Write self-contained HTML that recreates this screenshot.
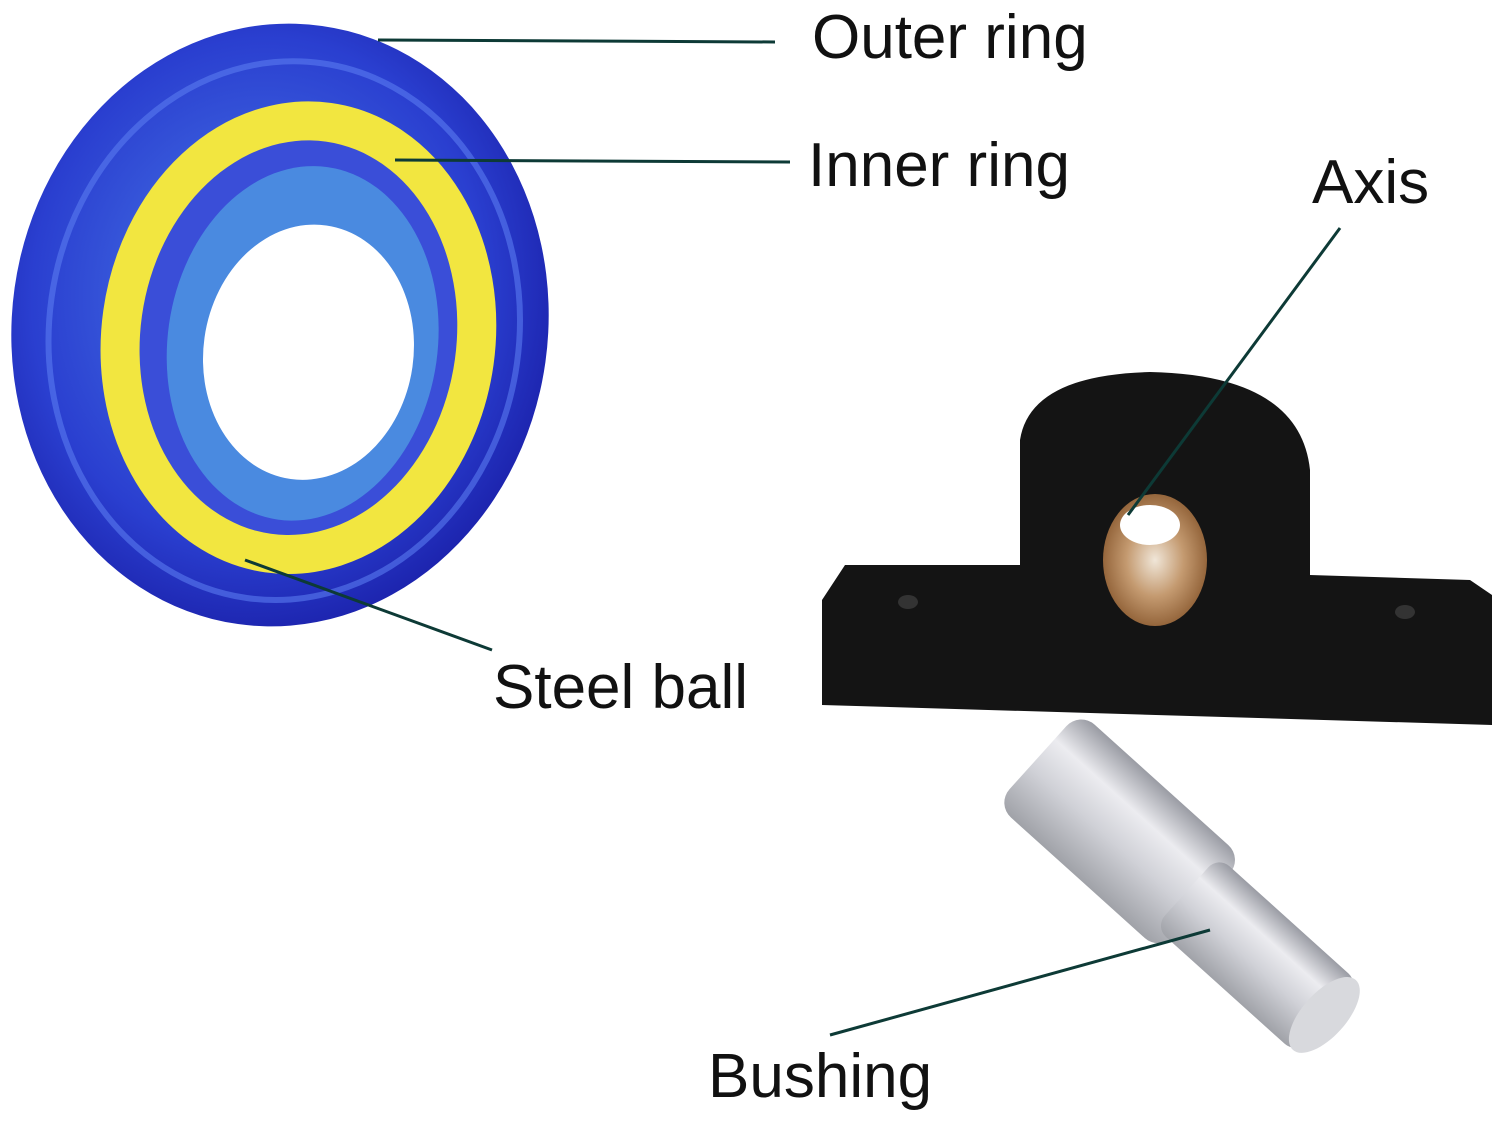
<!DOCTYPE html>
<html><head><meta charset="utf-8"><style>
html,body{margin:0;padding:0;background:#fff;}
svg{display:block;}
text{font-family:"Liberation Sans",sans-serif;fill:#111;}
</style></head><body>
<svg width="1500" height="1122" viewBox="0 0 1500 1122" xmlns="http://www.w3.org/2000/svg">
<defs>
<radialGradient id="blue" cx="45%" cy="45%" r="60%">
<stop offset="0" stop-color="#4a7be8"/><stop offset="0.7" stop-color="#2a3fd0"/><stop offset="1" stop-color="#1a1fa8"/>
</radialGradient>
<linearGradient id="silver" x1="0" y1="0" x2="0" y2="1">
<stop offset="0" stop-color="#9a9ca4"/><stop offset="0.3" stop-color="#ececf0"/><stop offset="0.6" stop-color="#d0d1d7"/><stop offset="1" stop-color="#a0a2a8"/>
</linearGradient>
<radialGradient id="copper" cx="50%" cy="50%" r="55%">
<stop offset="0" stop-color="#f0e6d8"/><stop offset="0.5" stop-color="#c49a70"/><stop offset="1" stop-color="#8a5a30"/>
</radialGradient>
</defs>
<g transform="rotate(8 280 325)">
<ellipse cx="280" cy="325" rx="268" ry="302" fill="url(#blue)"/>
<ellipse cx="285" cy="330" rx="235" ry="270" fill="none" stroke="#5a7cf0" stroke-width="6" opacity="0.6"/>
<ellipse cx="300" cy="335" rx="172" ry="212" fill="none" stroke="#f2e640" stroke-width="50"/>
<ellipse cx="300" cy="335" rx="158" ry="198" fill="#3a4ed8"/>
<ellipse cx="305" cy="340" rx="135" ry="178" fill="#4a8ae0"/>
<ellipse cx="312" cy="348" rx="105" ry="128" fill="#ffffff"/>
</g>
<path d="M845 565 L1020 565 L1020 440 Q1030 375 1150 372 Q1300 375 1310 470 L1310 575 L1470 580 L1492 595 L1492 725 L822 705 L822 600 Z" fill="#141414"/>
<ellipse cx="1155" cy="560" rx="52" ry="66" fill="url(#copper)"/>
<ellipse cx="1150" cy="525" rx="30" ry="20" fill="#ffffff"/>
<ellipse cx="908" cy="602" rx="10" ry="7" fill="#333"/>
<ellipse cx="1405" cy="612" rx="10" ry="7" fill="#333"/>
<g transform="rotate(42 1170 880)">
<rect x="990" y="815" width="220" height="125" rx="20" fill="url(#silver)"/>
<rect x="1190" y="830" width="190" height="95" rx="15" fill="url(#silver)"/>
<ellipse cx="1375" cy="877" rx="22" ry="47" fill="#d8d9dd"/>
</g>
<g stroke="#0d3a36" stroke-width="3" fill="none">
<line x1="378" y1="40" x2="775" y2="42"/>
<line x1="395" y1="160" x2="790" y2="162"/>
<line x1="245" y1="560" x2="492" y2="650"/>
<line x1="1340" y1="228" x2="1128" y2="515"/>
<line x1="830" y1="1035" x2="1210" y2="930"/>
</g>
<text x="812" y="58" font-size="62">Outer ring</text>
<text x="808" y="186" font-size="62">Inner ring</text>
<text x="1312" y="203" font-size="62">Axis</text>
<text x="493" y="708" font-size="62">Steel ball</text>
<text x="708" y="1097" font-size="62">Bushing</text>
</svg>
</body></html>
